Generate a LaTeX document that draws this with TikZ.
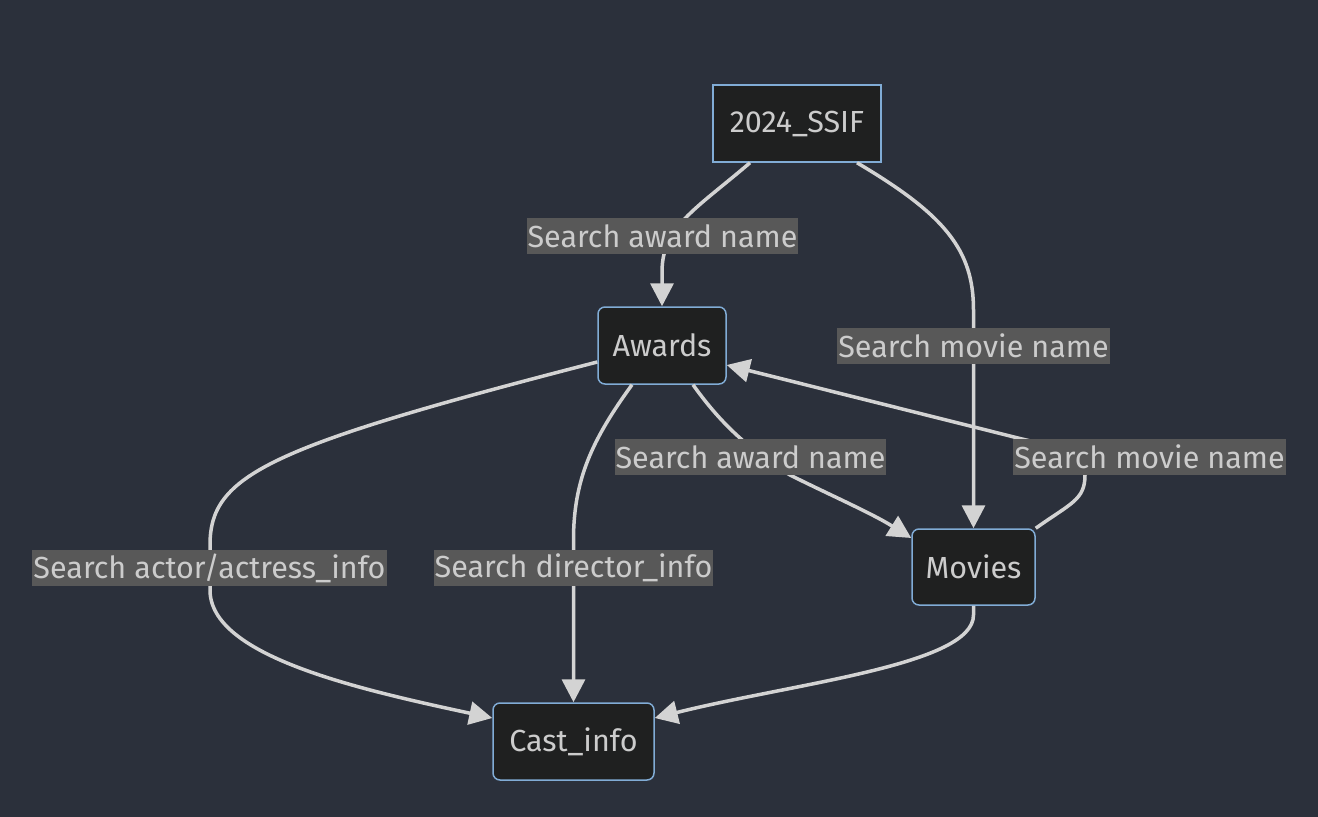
\documentclass[tikz,border=0pt]{standalone}
\usepackage{fontspec}
\setmainfont{Fira Sans}
\usetikzlibrary{arrows.meta,calc}
\definecolor{bgc}{HTML}{2B303B}
\definecolor{nodefill}{HTML}{1F2020}
\definecolor{nodeborder}{HTML}{81ACD6}
\definecolor{txt}{HTML}{CCCCCC}
\definecolor{edgec}{HTML}{D3D3D3}
\definecolor{lblfill}{HTML}{585858}
\tikzset{
  box/.style={draw=nodeborder, line width=1.5pt, fill=nodefill, text=txt, font=\fontsize{30.5}{33}\selectfont, inner sep=0pt, anchor=center},
  rbox/.style={box, rounded corners=7pt},
  edge/.style={draw=edgec, line width=3.5pt, -{Triangle[length=23pt,width=23pt]}},
  lbl/.style={fill=lblfill, text=txt, font=\fontsize{30.5}{33}\selectfont, inner xsep=1pt, inner ysep=0pt, minimum height=36pt, anchor=center}
}
\begin{document}
\begin{tikzpicture}[x=1pt,y=-1pt]
\fill[bgc] (0,0) rectangle (1318,817);
\useasboundingbox (0,0) rectangle (1318,817);

\node[box, minimum width=168pt, minimum height=77pt] (ssif) at (797,123.5) {2024\_SSIF};
\node[rbox, minimum width=128pt, minimum height=77pt] (awards) at (662,345.5) {Awards};
\node[rbox, minimum width=123pt, minimum height=76pt] (movies) at (973.5,567) {Movies};
\node[rbox, minimum width=161pt, minimum height=77pt] (cast) at (573.5,741.5) {Cast\_info};

% edges
\draw[edge] ([xshift=-47pt]ssif.south) .. controls +(-55,47) and +(0,-45) .. (662,272) -- (awards.north);
\draw[edge] ([xshift=60pt]ssif.south) .. controls +(88,52) and +(0,-60) .. (973.5,310) -- (movies.north);
\draw[edge] ([yshift=-16.5pt]awards.west) .. controls +(-330,85) and +(0,-70) .. (210,545) -- (210,590) .. controls +(0,65) and +(-140,-30) .. ([yshift=23.5pt]cast.west);
\draw[edge] ([xshift=-30pt]awards.south) .. controls +(-40,55) and +(0,-60) .. (573.5,540) -- (cast.north);
\draw[edge] ([xshift=31pt]awards.south) .. controls +(25,35) and +(-45,-28) .. (790,475) .. controls +(40,20) and +(-40,-25) .. ([yshift=29pt]movies.west);
\draw[edge] (movies.north east) .. controls +(35,-25) and +(0,25) .. (1085,475) .. controls +(0,-25) and +(30,8) .. (1010,436) -- ([yshift=-19.5pt]awards.east);
\draw[edge] (movies.south) -- (973.5,615) .. controls +(0,50) and +(140,-35) .. ([yshift=23.5pt]cast.east);

% labels
\node[lbl] (l1) at (662.5,236) {Search award name};
\node[lbl] (l2) at (973.5,346) {Search movie name};
\node[lbl] (l3) at (209.5,568) {Search actor/actress\_info};
\node[lbl] (l4) at (573.5,568) {Search director\_info};
\node[lbl] (l5) at (750.5,457) {Search award name};
\node[lbl] (l6) at (1149.5,457) {Search movie name};
\end{tikzpicture}
\end{document}
